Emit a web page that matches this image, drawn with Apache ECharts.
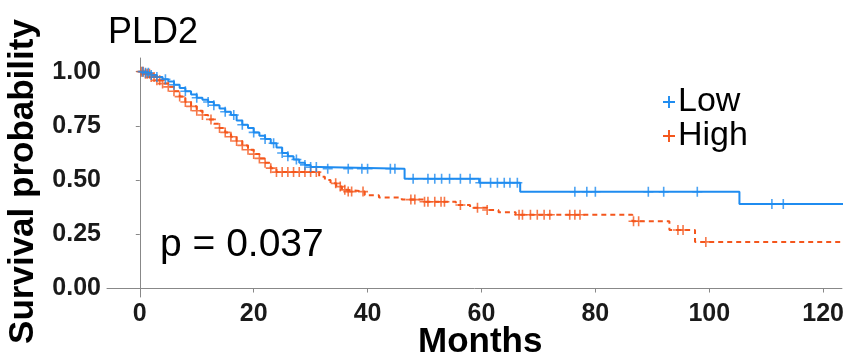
<!DOCTYPE html>
<html><head><meta charset="utf-8">
<script src="https://cdn.jsdelivr.net/npm/echarts@6/dist/echarts.min.js"></script>
<style>html,body{margin:0;padding:0;background:#fff}#c{width:847px;height:363px}</style>
</head><body><div id="c"></div>
<script>
// Kaplan-Meier step data: [months, survival]
const lowSteps = [[0,1.00],[1,0.995],[2,0.985],[3,0.975],[4,0.965],[5,0.955],[6,0.94],[7,0.925],[8,0.91],[9,0.895],[10,0.88],[11,0.87],[12,0.86],[13,0.845],[14,0.83],[15,0.815],[16,0.80],[17,0.775],[18,0.755],[19,0.74],[20,0.72],[21,0.705],[22,0.69],[23,0.67],[24,0.65],[25,0.625],[26,0.61],[27,0.595],[28,0.58],[29,0.57],[30,0.56],[31.5,0.552],[46.5,0.506],[59.6,0.488],[66.8,0.446],[105.3,0.39],[124,0.39]];
const highSteps = [[0,1.00],[1,0.99],[2,0.975],[3,0.96],[4,0.945],[5,0.93],[6,0.91],[7,0.885],[8,0.86],[9,0.84],[10,0.82],[11,0.80],[12,0.78],[13,0.76],[14,0.74],[15,0.72],[16,0.70],[17,0.68],[18,0.66],[19,0.64],[20,0.62],[21,0.60],[22,0.58],[23,0.555],[24,0.537],[31.5,0.515],[32.5,0.50],[33.5,0.485],[34.5,0.47],[35.5,0.455],[36.5,0.447],[39.5,0.43],[42,0.42],[46,0.41],[50,0.40],[55.5,0.385],[58,0.372],[61,0.362],[63,0.352],[66,0.34],[86.5,0.31],[93,0.27],[97.5,0.215],[124,0.215]];
// censoring times (months)
const lowCensor = [0.5,1,1.5,2,3,4.5,6,8,10,12,13,15,16.5,18,20,22,23.5,25,26,27.5,29,30,31,33,36.6,39,40,44,44.8,48,50.6,51.8,53,54.4,56.3,58,59.8,61.6,62.8,64,65,66.3,76.4,78.5,80,89.3,92,97.9,111,113];
const highCensor = [0.3,0.6,1,1.3,1.7,2,2.5,3,3.5,4,5,6,7,8,9,10,11,12.5,14,15,16,17,18,19,20,21,22,23,24,25,26,27,28,29,30,31,34.4,35.2,36,36.6,37.2,39.2,47.6,48.3,50,50.6,51.8,52.9,53.5,56.3,59.3,61,66.6,67.2,68.6,69.8,71,72,75.5,76.4,77.3,86.7,87.6,94.5,95.4,99.4];
const xTicks = [0,20,40,60,80,100,120];
const yTicks = [0,0.25,0.5,0.75,1];
const yTickLabels = ['0.00','0.25','0.50','0.75','1.00'];
const groups = ['Low','High'];
const pText = 'p = 0.037';
const titleText = 'PLD2';

const BLUE = '#1f8cf0', ORANGE = '#f4561c';
function survAt(steps, t){ let s = steps[0][1]; for (const p of steps){ if (p[0] <= t) s = p[1]; else break; } return s; }
const plus = 'path://M0,4.2 L10,4.2 L10,5.8 L0,5.8 Z M4.2,0 L5.8,0 L5.8,10 L4.2,10 Z';

const chart = echarts.init(document.getElementById('c'), null, {renderer:'canvas'});
const FONT = 'Liberation Sans, Arial, sans-serif';
chart.setOption({
  animation:false,
  grid:{left:107, right:0, top:58, bottom:66, containLabel:false},
  xAxis:{type:'value', min:-5.76, max:123.3,
    axisLine:{show:true, lineStyle:{color:'#888', width:1}},
    axisTick:{show:true, length:4, customValues:xTicks, lineStyle:{color:'#888'}},
    axisLabel:{customValues:xTicks, fontFamily:FONT, fontWeight:'bold', fontSize:25, color:'#1a1a1a', margin:5},
    splitLine:{show:false}},
  yAxis:{type:'value', min:-0.039, max:1.063,
    axisLine:{show:true, lineStyle:{color:'#888', width:1}},
    axisTick:{show:true, length:4, customValues:yTicks, lineStyle:{color:'#888'}},
    axisLabel:{customValues:yTicks, formatter:v=>yTickLabels[yTicks.indexOf(Math.round(v*100)/100)] ?? v.toFixed(2), fontFamily:FONT, fontWeight:'bold', fontSize:25, color:'#1a1a1a', margin:6},
    splitLine:{show:false}},
  legend:{orient:'vertical', left:658, top:80, itemWidth:12, itemHeight:12, itemGap:0,
    data:[{name:groups[0], icon:plus},{name:groups[1], icon:plus}],
    textStyle:{fontFamily:FONT, fontSize:34, color:'#000', padding:[0,0,0,-2]}},
  graphic:[
    {type:'text', left:108, top:15, style:{text:titleText, font:'36px '+FONT, fill:'#000'}},
    {type:'text', left:160, top:226, style:{text:pText, font:'39px '+FONT, fill:'#000'}},
    {type:'text', left:418, top:325, style:{text:'Months', font:'bold 35px '+FONT, fill:'#000'}},
    {type:'text', left:6, top:'center', rotation:Math.PI/2, style:{text:'Survival probability', font:'bold 35px '+FONT, fill:'#000'}}
  ],
  series:[
    {name:groups[0], type:'line', step:'end', data:lowSteps, showSymbol:false, symbol:plus, color:BLUE,
      lineStyle:{color:BLUE, width:2}, z:3},
    {name:groups[1], type:'line', step:'end', data:highSteps, showSymbol:false, symbol:plus, color:ORANGE,
      lineStyle:{color:ORANGE, width:2, type:[5,4]}, z:2},
    {name:groups[0], type:'scatter', data:lowCensor.map(t=>[t, survAt(lowSteps,t)]), symbol:plus, symbolSize:10,
      itemStyle:{color:BLUE}, z:4},
    {name:groups[1], type:'scatter', data:highCensor.map(t=>[t, survAt(highSteps,t)]), symbol:plus, symbolSize:10,
      itemStyle:{color:ORANGE}, z:3}
  ]
});
</script></body></html>
